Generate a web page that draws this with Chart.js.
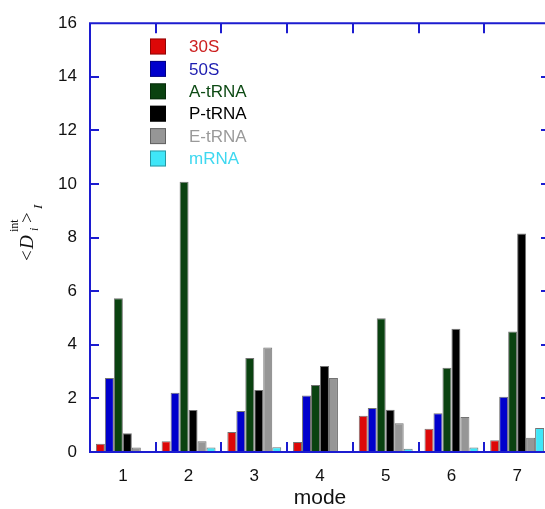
<!DOCTYPE html>
<html><head><meta charset="utf-8">
<script src="https://cdn.jsdelivr.net/npm/chart.js@4/dist/chart.umd.min.js"></script>
<style>html,body{margin:0;padding:0;overflow:hidden;background:#fff}#wrap{position:absolute;left:0;top:0;width:560px;height:509px}</style>
</head><body><div id="wrap"><canvas id="c" width="560" height="509"></canvas></div>
<script>
const modes = ['1','2','3','4','5','6','7'];
const s30S   = [0.31, 0.40, 0.75, 0.37, 1.35, 0.87, 0.44];
const s50S   = [2.76, 2.21, 1.53, 2.11, 1.64, 1.45, 2.06];
const sAtRNA = [5.74, 10.08, 3.51, 2.50, 4.99, 3.14, 4.50];
const sPtRNA = [0.70, 1.57, 2.31, 3.21, 1.58, 4.60, 8.15];
const sEtRNA = [0.17, 0.40, 3.90, 2.76, 1.07, 1.31, 0.53];
const smRNA  = [0.02, 0.17, 0.18, 0.00, 0.12, 0.17, 0.90];
const seriesNames = ['30S','50S','A-tRNA','P-tRNA','E-tRNA','mRNA'];
const yTicks = [0,2,4,6,8,10,12,14,16];

const fills  = ['#dd0808','#0000cc','#0a4210','#000000','#969696','#3fe6f8'];
const texts  = ['#cc2020','#1c1cb0','#0d4a14','#000000','#9a9a9a','#3fd8f0'];
const AXIS = '#1c1cd0';
const SANS = '"Liberation Sans", Arial, sans-serif';
const SERIF = '"Liberation Serif", "Times New Roman", serif';

const seriesData = [s30S, s50S, sAtRNA, sPtRNA, sEtRNA, smRNA];

const framePlugin = {
  id: 'frame',
  afterDatasetsDraw(chart) {
    const {ctx, chartArea: {left, right, top, bottom}, scales: {x, y}} = chart;
    ctx.save();
    ctx.strokeStyle = AXIS;
    ctx.lineWidth = 2;
    ctx.beginPath();
    ctx.rect(left, top, right - left, bottom - top);
    ctx.stroke();
    ctx.beginPath();
    yTicks.forEach(v => {
      if (v === yTicks[0] || v === yTicks[yTicks.length - 1]) return;
      const py = Math.round(y.getPixelForValue(v));
      ctx.moveTo(left, py); ctx.lineTo(left + 9, py);
      ctx.moveTo(right, py); ctx.lineTo(right - 9, py);
    });
    for (let i = 0; i < modes.length - 1; i++) {
      const px = Math.round((x.getPixelForValue(i) + x.getPixelForValue(i + 1)) / 2);
      ctx.moveTo(px, bottom); ctx.lineTo(px, bottom - 10);
      ctx.moveTo(px, top); ctx.lineTo(px, top + 10);
    }
    ctx.stroke();
    ctx.restore();
  },
  afterDraw(chart) {
    const ctx = chart.ctx;
    // legend
    ctx.save();
    chart.data.datasets.forEach((ds, i) => {
      const cy = 46.5 + 22.4 * i;
      ctx.fillStyle = ds.backgroundColor;
      ctx.fillRect(150, cy - 8, 16, 16);
      ctx.strokeStyle = 'rgba(0,0,0,0.35)';
      ctx.lineWidth = 1;
      ctx.strokeRect(150.5, cy - 7.5, 15, 15);
      ctx.fillStyle = texts[i];
      ctx.font = '17px ' + SANS;
      ctx.textBaseline = 'middle';
      ctx.textAlign = 'left';
      ctx.fillText(ds.label, 189, cy + 1);
    });
    ctx.restore();
    // y title
    ctx.save();
    ctx.translate(33, 261);
    ctx.rotate(-Math.PI / 2);
    ctx.fillStyle = '#111';
    ctx.textBaseline = 'alphabetic';
    ctx.textAlign = 'left';
    ctx.font = '19px ' + SERIF;
    ctx.fillText('<', 0, 0);
    ctx.font = 'italic 19px ' + SERIF;
    ctx.fillText('D', 12, 0);
    ctx.font = '12px ' + SERIF;
    ctx.fillText('int', 29, -15);
    ctx.font = 'italic 12px ' + SERIF;
    ctx.fillText('i', 30, 5);
    ctx.font = '19px ' + SERIF;
    ctx.fillText('>', 38, 0);
    ctx.font = 'italic 13px ' + SERIF;
    ctx.fillText('I', 52, 9);
    ctx.restore();
  }
};

new Chart(document.getElementById('c'), {
  type: 'bar',
  data: {
    labels: modes,
    datasets: seriesNames.map((name, i) => ({
      label: name,
      data: seriesData[i],
      backgroundColor: fills[i],
      borderColor: 'rgba(0,0,0,0.55)',
      borderWidth: 1,
      borderSkipped: 'bottom',
      barPercentage: 1.0,
      categoryPercentage: 0.82
    }))
  },
  options: {
    responsive: false,
    animation: false,
    devicePixelRatio: 1,
    layout: { padding: { top: 17, right: 10, left: 0, bottom: 0 } },
    plugins: { legend: { display: false }, tooltip: { enabled: false } },
    scales: {
      x: {
        type: 'category',
        offset: true,
        grid: { display: false, drawTicks: false },
        border: { display: false },
        ticks: { font: { family: SANS, size: 17 }, color: '#111', padding: 14, maxRotation: 0 },
        title: { display: true, text: 'mode', font: { family: SANS, size: 21 }, color: '#111', padding: { top: 0, bottom: -2 } },
        afterFit(s) { s.height = 57; }
      },
      y: {
        min: 0, max: 16,
        afterBuildTicks(s) { s.ticks = yTicks.map(v => ({ value: v })); },
        grid: { display: false, drawTicks: false },
        border: { display: false },
        ticks: { font: { family: SANS, size: 17 }, color: '#111', padding: 13 },
        afterFit(s) { s.width = 90; }
      }
    }
  },
  plugins: [framePlugin]
});
</script>
</body></html>
